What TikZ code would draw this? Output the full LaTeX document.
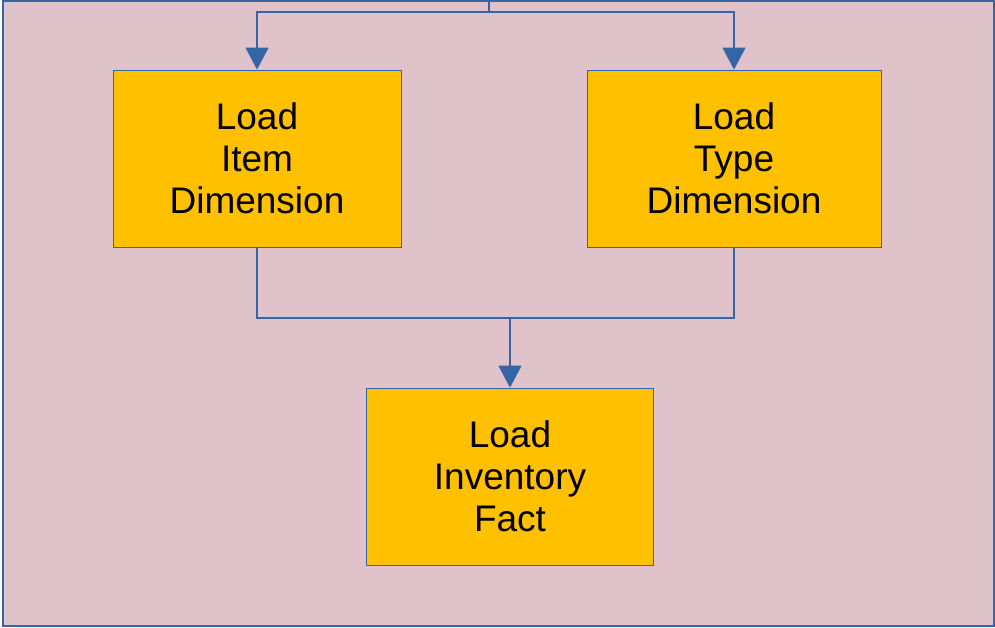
\documentclass[tikz,border=0pt]{standalone}
\usepackage{fontspec}
\setmainfont{Liberation Sans}
\usetikzlibrary{arrows.meta}
\definecolor{bgpink}{HTML}{E0C2CB}
\definecolor{lnblue}{HTML}{3465A4}
\definecolor{boxorange}{HTML}{FFC000}
\tikzset{
  taskbox/.style={draw=lnblue, line width=0.8pt, fill=boxorange, minimum width=288pt, minimum height=177pt, inner sep=0pt, align=center, font=\fontsize{37}{42}\selectfont, text=black},
  conn/.style={draw=lnblue, line width=1.3pt},
  arr/.style={conn, -{Triangle[width=23pt,length=22pt]}}
}
\begin{document}
\begin{tikzpicture}[x=1pt,y=-1pt]
\useasboundingbox (0,0) rectangle (995,627);
\draw[fill=bgpink, draw=lnblue, line width=1.5pt] (3,1) rectangle (994,626);
\node[taskbox, minimum width=288pt] (item) at (257,158.5) {Load\\Item\\Dimension};
\node[taskbox, minimum width=294pt] (type) at (734,158.5) {Load\\Type\\Dimension};
\node[taskbox, minimum width=287pt] (fact) at (510,476.5) {Load\\Inventory\\Fact};
\coordinate (top) at (489,0);
\coordinate (split) at (489,12);
\coordinate (join) at (510,318);
\draw[conn] (top) -- (split);
\draw[arr] (split) -| (item.north);
\draw[arr] (split) -| (type.north);
\draw[conn] (item.south) |- (join);
\draw[conn] (type.south) |- (join);
\draw[arr] (join) -- (fact.north);
\end{tikzpicture}
\end{document}
